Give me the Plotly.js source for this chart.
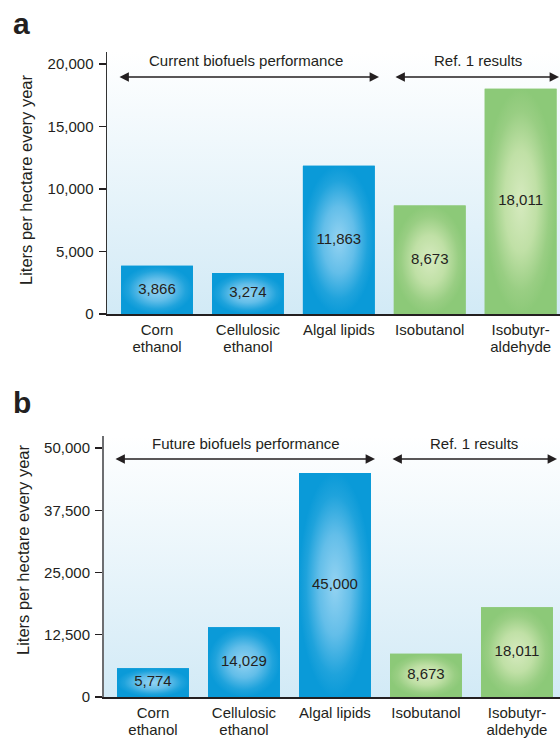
<!DOCTYPE html>
<html>
<head>
<meta charset="utf-8">
<script src="https://cdn.plot.ly/plotly-3.0.1.min.js"></script>
<style>html,body{margin:0;padding:0;background:#fff;}#chart{width:560px;height:738px;}</style>
</head>
<body>
<div id="chart"></div>
<script>
// ---------- data ----------
const categories = ['Corn<br>ethanol', 'Cellulosic<br>ethanol', 'Algal lipids', 'Isobutanol', 'Isobutyr-<br>aldehyde'];
const currentValues = [3866, 3274, 11863, 8673, 18011];
const futureValues = [5774, 14029, 45000, 8673, 18011];
const groupOfBar = ['biofuel', 'biofuel', 'biofuel', 'ref', 'ref'];
const tickValsA = [0, 5000, 10000, 15000, 20000];
const tickValsB = [0, 12500, 25000, 37500, 50000];
const panelATitle = 'Current biofuels performance';
const panelBTitle = 'Future biofuels performance';
const refTitle = 'Ref. 1 results';
const yTitle = 'Liters per hectare every year';

// ---------- styles ----------
const W = 560, H = 738;
const FONT = 'Liberation Sans, Arial, Helvetica, sans-serif';
const INK = '#231f20';
const BAR_W = 0.79;
const edgeColor = {biofuel: '#0a9ad8', ref: '#8cc978'};
const gradScale = {
  biofuel: [[0, '#94d3f2'], [0.45, '#63bee9'], [0.8, '#1fa3dc'], [1, '#0a9ad8']],
  ref: [[0, '#d6eabf'], [0.45, '#c0e0a6'], [0.8, '#99ce83'], [1, '#8cc978']]
};
const fmt = v => v.toLocaleString('en-US');
const xIdx = categories.map((_, i) => i);
// tick text: glyphs at 15px, line spacing from a smaller base size
const tickText = categories.map(c => c.split('<br>').map(s => '<span style="font-size:15px">' + s + '</span>').join('<br>'));
const px = x => x / W;
const py = y => 1 - y / H;

function panelTraces(values, xa, ya, bgx, bgy, yTop) {
  const tr = [];
  tr.push({
    type: 'scatter', mode: 'none', xaxis: bgx, yaxis: bgy,
    x: [-1, 5, 5, -1], y: [0, 0, yTop, yTop], fill: 'toself',
    fillgradient: {type: 'vertical', colorscale: [[0, '#d2eaf6'], [1, '#ffffff']]},
    hoverinfo: 'skip', showlegend: false
  });
  tr.push({
    type: 'bar', xaxis: xa, yaxis: ya, x: xIdx, y: values, width: BAR_W,
    marker: {color: values.map((_, i) => edgeColor[groupOfBar[i]]), line: {width: 0}},
    hoverinfo: 'y', showlegend: false
  });
  values.forEach((v, i) => {
    tr.push({
      type: 'scatter', mode: 'none', xaxis: xa, yaxis: ya,
      x: [i - BAR_W / 2, i + BAR_W / 2, i + BAR_W / 2, i - BAR_W / 2],
      y: [0, 0, v, v], fill: 'toself',
      fillgradient: {type: 'radial', colorscale: gradScale[groupOfBar[i]]},
      hoverinfo: 'skip', showlegend: false
    });
  });
  tr.push({
    type: 'scatter', mode: 'text', xaxis: xa, yaxis: ya,
    x: xIdx, y: values.map(v => v / 2), text: values.map(fmt),
    textposition: 'middle center',
    textfont: {family: FONT, size: 15, color: INK},
    hoverinfo: 'skip', showlegend: false
  });
  return tr;
}

const yTopA = 20960, yTopB = 52410;
const data = [
  ...panelTraces(currentValues, 'x2', 'y2', 'x', 'y', yTopA),
  ...panelTraces(futureValues, 'x4', 'y4', 'x3', 'y3', yTopB)
];

const hidden = {visible: false, fixedrange: true};
function yAxisVis(range, tickvals, overlay, anchor, lineColor, lineWidth) {
  return {
    overlaying: overlay, anchor: anchor, range: range, tickvals: tickvals, ticktext: tickvals.map(fmt),
    ticks: 'outside', ticklen: 7, tickwidth: 1.3, tickcolor: INK,
    showline: true, linecolor: lineColor, linewidth: lineWidth,
    showgrid: false, zeroline: false, ticklabelstandoff: 2,
    tickfont: {family: FONT, size: 15, color: INK}, fixedrange: true
  };
}
function xAxisVis(range, overlay, anchor) {
  return {
    overlaying: overlay, anchor: anchor, range: range, tickvals: xIdx, ticktext: tickText,
    ticks: '', showline: true, linecolor: INK, linewidth: 1.5,
    showgrid: false, zeroline: false, ticklabelstandoff: 5,
    tickfont: {family: FONT, size: 12.4, color: INK}, fixedrange: true
  };
}

const rangeXA = [-0.55, 4.433], rangeXB = [-0.538, 4.473];
const layout = {
  width: W, height: H, margin: {l: 0, r: 0, t: 0, b: 0},
  paper_bgcolor: '#ffffff', plot_bgcolor: 'rgba(0,0,0,0)', showlegend: false,
  xaxis: Object.assign({domain: [px(107), 1], range: rangeXA, anchor: 'y'}, hidden),
  yaxis: Object.assign({domain: [py(314), py(52)], range: [0, yTopA], anchor: 'x'}, hidden),
  xaxis2: xAxisVis(rangeXA, 'x', 'y2'),
  yaxis2: yAxisVis([0, yTopA], tickValsA, 'y', 'x2', '#333333', 1.5),
  xaxis3: Object.assign({domain: [px(104), 1], range: rangeXB, anchor: 'y3'}, hidden),
  yaxis3: Object.assign({domain: [py(697), py(436)], range: [0, yTopB], anchor: 'x3'}, hidden),
  xaxis4: xAxisVis(rangeXB, 'x3', 'y4'),
  yaxis4: yAxisVis([0, yTopB], tickValsB, 'y3', 'x4', '#6d6e71', 2),
  annotations: []
};

function label(text, x, y, opts) {
  return Object.assign({
    xref: 'paper', yref: 'paper', x: px(x), y: py(y), text: text, showarrow: false,
    xanchor: 'center', yanchor: 'middle', font: {family: FONT, size: 15, color: INK}
  }, opts || {});
}
function dblArrow(x0, x1, y) {
  return {
    xref: 'paper', yref: 'paper', x: px(x1), y: py(y), ax: x0 - x1, ay: 0,
    axref: 'pixel', ayref: 'pixel', text: '', showarrow: true,
    arrowside: 'end+start', arrowhead: 2, startarrowhead: 2,
    arrowsize: 1.1, startarrowsize: 1.1, arrowwidth: 1.7, arrowcolor: INK,
    standoff: 0, startstandoff: 0
  };
}

layout.annotations.push(
  label('a', 11, 24, {xanchor: 'left', font: {family: FONT, size: 30, color: INK, weight: 'bold'}}),
  label('b', 11, 402, {xanchor: 'left', font: {family: FONT, size: 30, color: INK, weight: 'bold'}}),
  label(yTitle, 26, 180, {textangle: -90, font: {family: FONT, size: 16.5, color: INK}}),
  label(yTitle, 23, 550, {textangle: -90, font: {family: FONT, size: 16.5, color: INK}}),
  label(panelATitle, 246, 61),
  label(refTitle, 478, 61),
  label(panelBTitle, 246, 443),
  label(refTitle, 474, 443),
  dblArrow(118, 379, 77),
  dblArrow(394, 560, 77),
  dblArrow(114, 375, 459),
  dblArrow(391, 557, 459)
);

Plotly.newPlot('chart', data, layout, {displayModeBar: false, staticPlot: true});
</script>
</body>
</html>
